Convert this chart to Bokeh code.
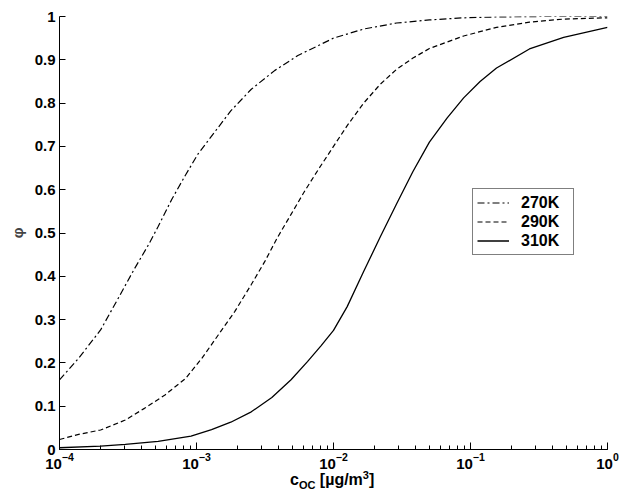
from bokeh.plotting import figure
from bokeh.models import Range1d, FixedTicker, LogTicker, Legend, LegendItem, Div
from bokeh.layouts import column
from bokeh.embed import file_html
from bokeh.resources import INLINE

# log10 of concentration c_OC [ug/m^3] and phi, per series
log_c_270 = [-4.0, -3.86, -3.70, -3.57, -3.45, -3.35, -3.28, -3.18, -3.08, -2.99, -2.87, -2.75,
             -2.60, -2.43, -2.26, -2.11, -2.0, -1.78, -1.54, -1.30, -1.05, -0.81, -0.5, 0.0]
phi_270 = [0.161, 0.211, 0.276, 0.350, 0.419, 0.473, 0.515, 0.578, 0.634, 0.682, 0.732, 0.782,
           0.832, 0.875, 0.910, 0.933, 0.950, 0.971, 0.985, 0.992, 0.997, 0.999, 1.0, 1.0]

log_c_290 = [-4.0, -3.86, -3.70, -3.52, -3.38, -3.23, -3.08, -2.96, -2.84, -2.72, -2.60, -2.50,
             -2.41, -2.31, -2.21, -2.11, -2.0, -1.90, -1.78, -1.66, -1.54, -1.42, -1.30, -1.05,
             -0.81, -0.57, -0.32, 0.0]
phi_290 = [0.023, 0.035, 0.045, 0.068, 0.095, 0.126, 0.164, 0.211, 0.265, 0.319, 0.381, 0.435,
           0.489, 0.543, 0.597, 0.647, 0.700, 0.748, 0.800, 0.843, 0.878, 0.904, 0.926, 0.955,
           0.975, 0.987, 0.994, 0.997]

log_c_310 = [-4.0, -3.70, -3.52, -3.28, -3.04, -2.89, -2.75, -2.60, -2.45, -2.31, -2.19, -2.09,
             -2.0, -1.90, -1.78, -1.66, -1.54, -1.42, -1.30, -1.17, -1.05, -0.93, -0.81, -0.57,
             -0.32, 0.0]
phi_310 = [0.004, 0.008, 0.012, 0.019, 0.031, 0.046, 0.063, 0.087, 0.120, 0.161, 0.203, 0.240,
           0.275, 0.330, 0.411, 0.490, 0.567, 0.642, 0.710, 0.766, 0.812, 0.850, 0.881, 0.925,
           0.952, 0.975]

series_names = ["270K", "290K", "310K"]
y_ticks = [0, 0.1, 0.2, 0.3, 0.4, 0.5, 0.6, 0.7, 0.8, 0.9, 1]

c_270 = [10 ** v for v in log_c_270]
c_290 = [10 ** v for v in log_c_290]
c_310 = [10 ** v for v in log_c_310]

FONT = "Liberation Sans"

p = figure(width=621, height=471, x_axis_type="log",
           x_range=Range1d(1e-4, 1), y_range=Range1d(0, 1),
           output_backend="svg", toolbar_location=None,
           min_border_left=59, min_border_right=14, min_border_top=16, min_border_bottom=22)
p.outline_line_color = None
p.grid.visible = False
p.background_fill_color = "white"
p.border_fill_color = "white"

r1 = p.line(c_270, phi_270, line_color="black", line_width=1.2, line_dash="7 3 2 3")
r2 = p.line(c_290, phi_290, line_color="black", line_width=1.2, line_dash="5 3")
r3 = p.line(c_310, phi_310, line_color="black", line_width=1.3)

# axes
p.xaxis.ticker = LogTicker(num_minor_ticks=10)
p.yaxis.ticker = FixedTicker(ticks=y_ticks)
p.yaxis.major_label_overrides = {0: "0", 1: "1"}
for ax in (p.xaxis, p.yaxis):
    ax.axis_line_color = "black"
    ax.major_tick_line_color = "black"
    ax.minor_tick_line_color = "black"
    ax.major_tick_out = 0
    ax.minor_tick_out = 0
    ax.major_label_text_font = FONT
    ax.major_label_text_font_style = "bold"
    ax.major_label_text_font_size = "15px"
    ax.major_label_text_color = "black"
p.xaxis.major_tick_in = 7
p.xaxis.minor_tick_in = 4
p.xaxis.major_label_standoff = 3
p.yaxis.major_tick_in = 6
p.yaxis.minor_tick_line_color = None
p.yaxis.major_label_standoff = 4
p.yaxis.axis_label = "φ"
p.yaxis.axis_label_text_font = FONT
p.yaxis.axis_label_text_font_style = "bold"
p.yaxis.axis_label_text_font_size = "15px"
p.yaxis.axis_label_standoff = 6

legend = Legend(items=[LegendItem(label=series_names[0], renderers=[r1]),
                       LegendItem(label=series_names[1], renderers=[r2]),
                       LegendItem(label=series_names[2], renderers=[r3])],
                location=(413, 194))
legend.border_line_color = "black"
legend.border_line_width = 1
legend.background_fill_color = "white"
legend.background_fill_alpha = 1
legend.padding = 4
legend.spacing = 0
legend.margin = 0
legend.label_height = 19
legend.glyph_height = 19
legend.glyph_width = 32
legend.label_standoff = 12
legend.label_width = 48
legend.label_text_font = FONT
legend.label_text_font_style = "bold"
legend.label_text_font_size = "16px"
legend.label_text_color = "black"
p.add_layout(legend, "center")

# x-axis label with subscript / superscript as real HTML text
xlabel = Div(
    text=('<div style="position:relative; top:-4px; margin-left:285px; font-family:\'Liberation Sans\';'
          ' font-weight:bold; font-size:16px; line-height:16px; color:black; white-space:nowrap">'
          'c<sub style="font-size:11px; line-height:0">OC</sub> [µg/m'
          '<sup style="font-size:11px; line-height:0">3</sup>]</div>'),
    width=621, height=26)

layout = column(p, xlabel, spacing=0)
open("out.html", "w").write(file_html(layout, INLINE))
